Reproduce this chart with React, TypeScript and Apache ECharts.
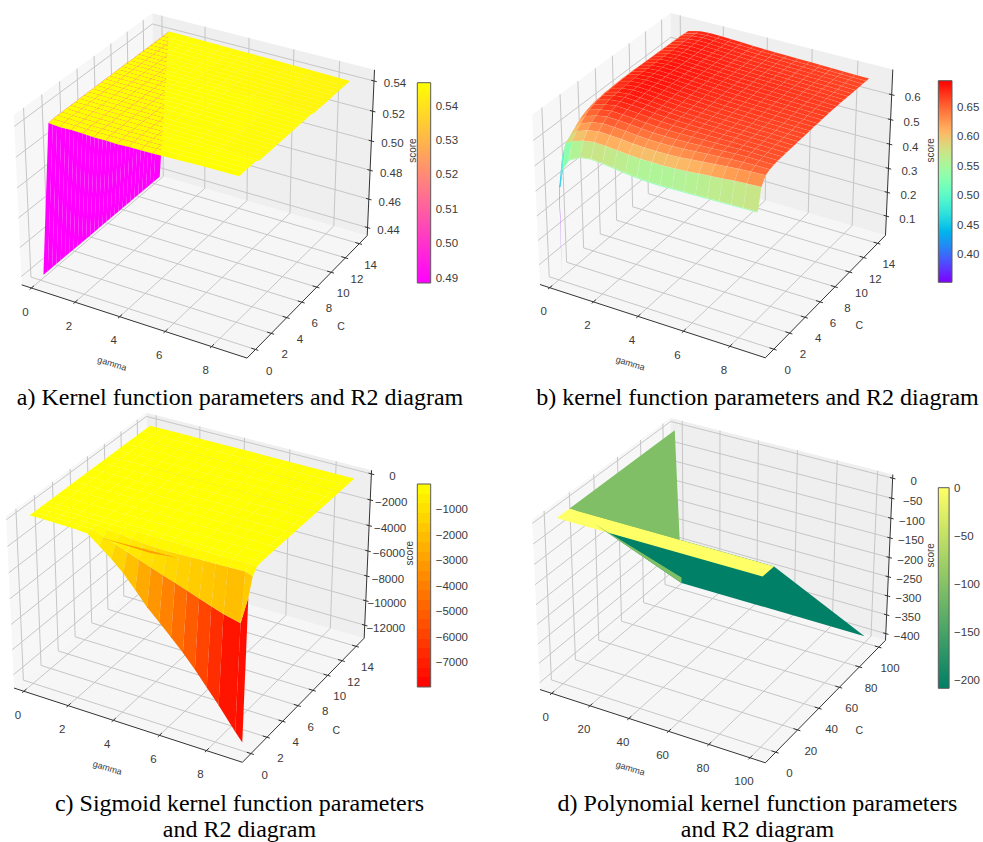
import React, { useEffect, useRef } from "react";
import * as echarts from "echarts";

// ---------- panel a ----------
const aGamma = [0.1, 0.6, 1.1, 1.6, 2.1, 2.6, 3.1, 3.6, 4.1, 4.6, 5.1, 6.1, 7.1, 8.7];
const aC = [0.1, 0.6, 1.1, 1.6, 2.1, 2.6, 3.1, 3.6, 4.1, 4.6, 5.1, 5.6, 6.1, 6.6, 7.1, 7.6, 8.1, 8.6, 9.1, 9.6, 10.1, 10.6, 11.1, 11.6, 12.1, 12.6, 13.1, 13.6, 14.4];
const aFront = [0.438, 0.5415, 0.5408, 0.5412, 0.541, 0.5405, 0.5407, 0.5405, 0.5408, 0.5409, 0.541, 0.5415, 0.542, 0.5423];
const aNear = [0.438, 0.542, 0.5418, 0.5416, 0.5415, 0.5415, 0.5415, 0.5416, 0.5417, 0.5417, 0.5418, 0.542, 0.5422, 0.5424];
const aMid = [0.438, 0.542, 0.542, 0.5419, 0.5419, 0.5418, 0.5418, 0.5417, 0.5417, 0.5417, 0.5416, 0.5415, 0.5412, 0.5408];
const aFar = [0.438, 0.5418, 0.5418, 0.5417, 0.5416, 0.5415, 0.5414, 0.5413, 0.5412, 0.5411, 0.541, 0.5407, 0.5404, 0.54];
const aScores = [aFront, aNear, aNear, aNear, aNear, aMid, aMid, aMid, aMid, aMid, aMid, aMid, aMid, aMid, aMid, aMid, aMid, aMid, aMid, aFar, aFar, aFar, aFar, aFar, aFar, aFar, aFar, aFar, aFar];

// ---------- panel b ----------
const bGamma = [0.1, 0.16, 0.3, 0.6, 1.1, 1.6, 2.1, 2.6, 3.1, 3.6, 4.1, 4.6, 5.1, 5.6, 6.1, 6.6, 7.1, 7.6, 8.1, 8.7];
const bC = [0.1, 0.2, 0.6, 1.1, 1.6, 2.1, 2.6, 3.1, 3.6, 4.1, 4.6, 5.1, 5.6, 6.1, 6.6, 7.1, 7.6, 8.1, 8.6, 9.1, 9.6, 10.1, 10.6, 11.1, 11.6, 12.1, 12.6, 13.1, 13.6, 14.1, 14.5];
const bR0 = [0.03, 0.4, 0.472, 0.515, 0.54, 0.547, 0.543, 0.538, 0.532, 0.527, 0.524, 0.523, 0.524, 0.525, 0.526, 0.527, 0.528, 0.529, 0.53, 0.531];
const bR0b = [0.39, 0.4, 0.472, 0.515, 0.54, 0.547, 0.543, 0.538, 0.532, 0.527, 0.524, 0.523, 0.524, 0.525, 0.526, 0.527, 0.528, 0.529, 0.53, 0.531];
const bR06 = [0.49, 0.519, 0.564, 0.579, 0.594, 0.601, 0.599, 0.595, 0.591, 0.588, 0.587, 0.587, 0.589, 0.592, 0.596, 0.6, 0.604, 0.608, 0.611, 0.614];
const bR11 = [0.509, 0.539, 0.579, 0.604, 0.621, 0.629, 0.627, 0.624, 0.62, 0.617, 0.616, 0.617, 0.619, 0.623, 0.627, 0.631, 0.635, 0.639, 0.642, 0.644];
const bR16 = [0.519, 0.554, 0.594, 0.621, 0.639, 0.647, 0.645, 0.642, 0.638, 0.635, 0.634, 0.635, 0.637, 0.64, 0.643, 0.646, 0.649, 0.651, 0.652, 0.652];
const bR21 = [0.524, 0.564, 0.609, 0.637, 0.652, 0.66, 0.658, 0.655, 0.651, 0.648, 0.647, 0.647, 0.648, 0.65, 0.652, 0.654, 0.656, 0.657, 0.657, 0.656];
const bR26 = [0.529, 0.574, 0.621, 0.649, 0.662, 0.669, 0.667, 0.664, 0.66, 0.657, 0.656, 0.656, 0.656, 0.657, 0.658, 0.659, 0.66, 0.66, 0.659, 0.658];
const bR31 = [0.534, 0.579, 0.629, 0.657, 0.669, 0.676, 0.674, 0.671, 0.667, 0.664, 0.662, 0.661, 0.661, 0.661, 0.661, 0.661, 0.661, 0.661, 0.66, 0.659];
const bR36 = [0.539, 0.584, 0.634, 0.662, 0.674, 0.68, 0.678, 0.675, 0.671, 0.668, 0.666, 0.665, 0.664, 0.664, 0.663, 0.663, 0.662, 0.662, 0.661, 0.66];
const bR41 = [0.544, 0.589, 0.639, 0.666, 0.678, 0.683, 0.681, 0.678, 0.674, 0.671, 0.669, 0.667, 0.666, 0.665, 0.664, 0.664, 0.663, 0.663, 0.662, 0.661];
const bR51 = [0.549, 0.594, 0.644, 0.669, 0.681, 0.686, 0.684, 0.681, 0.677, 0.674, 0.672, 0.67, 0.668, 0.667, 0.666, 0.665, 0.664, 0.664, 0.663, 0.662];
const bR61 = [0.551, 0.596, 0.646, 0.671, 0.683, 0.687, 0.686, 0.683, 0.679, 0.676, 0.674, 0.672, 0.67, 0.669, 0.668, 0.667, 0.666, 0.665, 0.664, 0.663];
const bR71 = [0.552, 0.597, 0.647, 0.672, 0.683, 0.687, 0.686, 0.684, 0.681, 0.678, 0.676, 0.674, 0.672, 0.671, 0.67, 0.669, 0.668, 0.667, 0.666, 0.665];
const bR81 = [0.552, 0.597, 0.647, 0.672, 0.683, 0.687, 0.686, 0.684, 0.681, 0.679, 0.677, 0.675, 0.674, 0.672, 0.671, 0.67, 0.669, 0.668, 0.667, 0.666];
const bR91 = [0.551, 0.596, 0.646, 0.671, 0.682, 0.686, 0.685, 0.683, 0.681, 0.679, 0.677, 0.675, 0.674, 0.673, 0.672, 0.671, 0.67, 0.669, 0.668, 0.667];
const bR101 = [0.55, 0.595, 0.645, 0.67, 0.681, 0.685, 0.684, 0.682, 0.68, 0.678, 0.676, 0.675, 0.674, 0.673, 0.672, 0.671, 0.67, 0.669, 0.668, 0.666];
const bR111 = [0.549, 0.594, 0.644, 0.669, 0.68, 0.684, 0.683, 0.681, 0.679, 0.677, 0.675, 0.674, 0.673, 0.672, 0.671, 0.67, 0.669, 0.668, 0.667, 0.665];
const bR121 = [0.548, 0.593, 0.643, 0.668, 0.679, 0.683, 0.682, 0.68, 0.678, 0.676, 0.674, 0.673, 0.672, 0.671, 0.67, 0.669, 0.668, 0.667, 0.666, 0.664];
const bR131 = [0.547, 0.592, 0.642, 0.667, 0.678, 0.682, 0.681, 0.679, 0.677, 0.675, 0.673, 0.672, 0.671, 0.67, 0.669, 0.668, 0.667, 0.666, 0.665, 0.663];
const bR141 = [0.546, 0.591, 0.641, 0.665, 0.676, 0.68, 0.679, 0.677, 0.675, 0.673, 0.671, 0.67, 0.669, 0.668, 0.667, 0.666, 0.665, 0.664, 0.663, 0.662];
const bScores = [bR0, bR0b, bR06, bR11, bR16, bR21, bR26, bR31, bR36, bR41, bR41, bR51, bR51, bR61, bR61, bR71, bR71, bR81, bR81, bR91, bR91, bR101, bR101, bR111, bR111, bR121, bR121, bR131, bR131, bR141, bR141];

// ---------- panel c ----------
const cGamma = [0.1, 0.6, 1.1, 1.6, 2.1, 2.6, 3.1, 3.6, 4.1, 4.6, 5.1, 5.6, 6.1, 6.6, 7.1, 7.6, 8.1, 8.8, 9.1];
const cC = [0.1, 0.6, 1.1, 1.6, 2.1, 3.1, 4.1, 5.1, 6.1, 7.1, 8.1, 9.1, 10.1, 11.1, 12.1, 13.1, 14.1];
const cRow0 = [0, 0, -10, -30, -60, -120, -800, -1500, -2300, -3300, -4350, -5200, -6100, -7000, -8000, -9100, -10200, -11850, -12500];
const cRow1 = [0, 0, -5, -15, -30, -50, -370, -690, -1010, -1330, -1650, -1970, -2280, -2600, -2920, -3240, -3550, -3860, -1820];
const cRow2 = [0, 0, -5, -10, -20, -30, -100, -200, -300, -400, -450, -450, -450, -420, -400, -380, -360, -340, -500];
const cRow3 = [0, 0, 0, -5, -10, -15, -20, -25, -30, -35, -40, -45, -50, -55, -60, -65, -70, -80, -100];
const cFlat = [0, 0, 0, 0, -5, -5, -5, -10, -10, -10, -10, -15, -15, -15, -20, -20, -20, -25, -25];
const cScores = [cRow0, cRow1, cRow2, cRow3, cFlat, cFlat, cFlat, cFlat, cFlat, cFlat, cFlat, cFlat, cFlat, cFlat, cFlat, cFlat, cFlat];
const cSliver = [
  [2.96, 0.6, -515],
  [5.08, 0.6, -600],
  [6.2, 0.6, -380],
];

// ---------- panel d ----------
const dGamma = [0.1, 3, 100];
const dC = [0.1, 10, 100];
const dScores = [
  [0, 0, 0],
  [0, 0, 0],
  [0, -400, -400],
];
const dSliver = [
  [3, 25, -67],
  [3, 100, -400],
  [3, 100, -385],
];

// ---------- ticks ----------
const gammaTicks09 = [0, 2, 4, 6, 8];
const cTicks015 = [0, 2, 4, 6, 8, 10, 12, 14];
const gammaTicks100 = [0, 20, 40, 60, 80, 100];
const cTicks100 = [0, 20, 40, 60, 80, 100];
const aZTicks = [0.44, 0.46, 0.48, 0.5, 0.52, 0.54];
const bZTicks = [0.1, 0.2, 0.3, 0.4, 0.5, 0.6];
const cZTicks = [-12000, -10000, -8000, -6000, -4000, -2000, 0];
const dZTicks = [-400, -350, -300, -250, -200, -150, -100, -50, 0];
const aBarTicks = [0.49, 0.5, 0.51, 0.52, 0.53, 0.54];
const bBarTicks = [0.4, 0.45, 0.5, 0.55, 0.6, 0.65];
const cBarTicks = [-7000, -6000, -5000, -4000, -3000, -2000, -1000];
const dBarTicks = [-200, -150, -100, -50, 0];

const captions = [
  { text: "a) Kernel function parameters and R2 diagram", x: 240, y: 397 },
  { text: "b) kernel function parameters and R2 diagram", x: 757.5, y: 397 },
  { text: "c) Sigmoid kernel function parameters", x: 239.5, y: 803 },
  { text: "and R2 diagram", x: 239.5, y: 829 },
  { text: "d) Polynomial kernel function parameters", x: 757.5, y: 803 },
  { text: "and R2 diagram", x: 757.5, y: 829 },
];

// ---------- colour maps ----------
const clip = (v: number) => Math.max(0, Math.min(1, v));
const rgb = (r: number, g: number, b: number) =>
  `rgb(${Math.round(clip(r) * 255)},${Math.round(clip(g) * 255)},${Math.round(clip(b) * 255)})`;
const spring = (v: number) => rgb(1, v, 1 - v);
const rainbow = (v: number) => rgb(Math.abs(2 * v - 0.5), Math.sin(Math.PI * v), Math.cos((Math.PI * v) / 2));
const autumn = (v: number) => rgb(1, v, 0);
const summer = (v: number) => rgb(v, 0.5 + 0.5 * v, 0.4);

const FONT = '"Liberation Sans"';
const TXT = "#3a3a3a";

const panels: any[] = [
  {
    gamma: aGamma, c: aC, scores: aScores, cmap: spring, colorMin: 0.49, colorMax: 0.542,
    x0: -0.45, x1: 9.5, y0: -1.05, y1: 15.15, z0: 0.4343, z1: 0.5473, s: 226, ox: 197.5, oy: 177.7,
    gTicks: gammaTicks09, cTicks: cTicks015, zTicks: aZTicks, zFmt: (v: number) => v.toFixed(2),
    bar: { left: 417.3, top: 82.7, width: 13.4, height: 200.3, min: 0.4884, max: 0.5467, ticks: aBarTicks, fmt: (v: number) => v.toFixed(2), steps: 0 },
  },
  {
    gamma: bGamma, c: bC, scores: bScores, cmap: rainbow, colorMin: 0.352, colorMax: 0.694, seam: "rgba(255,255,255,0.14)",
    x0: -0.45, x1: 9.5, y0: -1.05, y1: 15.15, z0: 0.0177, z1: 0.6999, s: 226, ox: 715.8, oy: 177.4,
    gTicks: gammaTicks09, cTicks: cTicks015, zTicks: bZTicks, zFmt: (v: number) => v.toFixed(1),
    bar: { left: 938.3, top: 80.7, width: 13.7, height: 201.6, min: 0.352, max: 0.694, ticks: bBarTicks, fmt: (v: number) => v.toFixed(2), steps: 0 },
  },
  {
    gamma: cGamma, c: cC, scores: cScores, cmap: autumn, colorMin: -7975, colorMax: 0, extra: cSliver, extraTone: 0.62,
    x0: -0.45, x1: 9.5, y0: -1.05, y1: 15.15, z0: -13074, z1: 282, s: 229, ox: 192.2, oy: 579.5,
    gTicks: gammaTicks09, cTicks: cTicks015, zTicks: cZTicks, zFmt: (v: number) => String(v),
    bar: { left: 417.3, top: 484, width: 13.4, height: 203, min: -7975, max: 0, ticks: cBarTicks, fmt: (v: number) => String(v), steps: 21 },
  },
  {
    gamma: dGamma, c: dC, scores: dScores, cmap: summer, colorMin: -200, colorMax: 0, extra: dSliver, extraTone: 0.5,
    x0: -6.2, x1: 107.4, y0: -9.3, y1: 107, z0: -418, z1: 9, s: 226, ox: 715.8, oy: 582.4,
    gTicks: gammaTicks100, cTicks: cTicks100, zTicks: dZTicks, zFmt: (v: number) => String(v),
    bar: { left: 938.3, top: 487.7, width: 13.7, height: 200.6, min: -208.7, max: 0.7, ticks: dBarTicks, fmt: (v: number) => String(v), steps: 0 },
  },
];

// matplotlib's default 3D view: elevation 30, azimuth -60, distance 10
const BOX = [1.1429, 1.1429, 0.857];
function project(p: any, g: number, c: number, z: number) {
  const X = ((g - p.x0) / (p.x1 - p.x0) - 0.5) * BOX[0];
  const Y = ((c - p.y0) / (p.y1 - p.y0) - 0.5) * BOX[1];
  const Z = ((z - p.z0) / (p.z1 - p.z0) - 0.5) * BOX[2];
  const a = 0.866 * X + 0.5 * Y;
  const b = -0.25 * X + 0.433 * Y + 0.866 * Z;
  const w = 0.433 * X - 0.75 * Y + 0.5 * Z;
  const k = 1 / (1 - w / 10);
  return [p.ox + p.s * a * k, p.oy - p.s * b * k, w];
}
const xy = (p: any, g: number, c: number, z: number) => project(p, g, c, z).slice(0, 2);

const minus = (s: string) => s.replace("-", "\u2212");

function line(points: number[][], stroke: string, lineWidth: number) {
  return { type: "polyline", shape: { points }, style: { stroke, lineWidth, fill: "none" }, silent: true };
}
function label(text: string, x: number, y: number, fontSize = 11.5, rotation = 0) {
  return {
    type: "text", x, y, rotation, silent: true,
    style: { text, fontSize, fontFamily: FONT, fill: TXT, align: "center", verticalAlign: "middle" },
  };
}

function frameChildren(p: any) {
  const { x0, x1, y0, y1, z0, z1 } = p;
  const out: any[] = [];
  const pane = (pts: number[][], fill: string) =>
    out.push({ type: "polygon", shape: { points: pts.map((q) => xy(p, q[0], q[1], q[2])) }, style: { fill }, silent: true });
  pane([[x0, y0, z0], [x1, y0, z0], [x1, y1, z0], [x0, y1, z0]], "#f6f6f6");
  pane([[x0, y0, z0], [x0, y1, z0], [x0, y1, z1], [x0, y0, z1]], "#f7f7f7");
  pane([[x0, y1, z0], [x1, y1, z0], [x1, y1, z1], [x0, y1, z1]], "#efefef");
  const GRID = "#c6c6c6";
  p.gTicks.forEach((g: number) => {
    out.push(line([xy(p, g, y0, z0), xy(p, g, y1, z0), xy(p, g, y1, z1)], GRID, 1));
  });
  p.cTicks.forEach((c: number) => {
    out.push(line([xy(p, x1, c, z0), xy(p, x0, c, z0), xy(p, x0, c, z1)], GRID, 1));
  });
  p.zTicks.forEach((z: number) => {
    out.push(line([xy(p, x0, y0, z), xy(p, x0, y1, z), xy(p, x1, y1, z)], GRID, 1));
  });
  const AX = "#333";
  out.push(line([xy(p, x0, y0, z0), xy(p, x1, y0, z0), xy(p, x1, y1, z0), xy(p, x1, y1, z1)], AX, 1));
  const lx = x1 - x0;
  const ly = y1 - y0;
  p.gTicks.forEach((g: number) => {
    out.push(line([xy(p, g, y0 - 0.012 * ly, z0), xy(p, g, y0 + 0.018 * ly, z0)], AX, 1));
    const t = xy(p, g, y0, z0);
    out.push(label(String(g), t[0] - 6, t[1] + 23.5));
  });
  p.cTicks.forEach((c: number) => {
    out.push(line([xy(p, x1 - 0.018 * lx, c, z0), xy(p, x1 + 0.012 * lx, c, z0)], AX, 1));
    const t = xy(p, x1, c, z0);
    const frac = (c - y0) / ly;
    out.push(label(String(c), t[0] + 14 - 3 * frac, t[1] + 21));
  });
  p.zTicks.forEach((z: number) => {
    out.push(line([xy(p, x1 - 0.012 * lx, y1, z), xy(p, x1 + 0.012 * lx, y1, z)], AX, 1));
    const t = xy(p, x1, y1, z);
    out.push(label(minus(p.zFmt(z)), t[0] + 21, t[1] + 2.5));
  });
  const bottom = xy(p, x1, y0, z0);
  const right = xy(p, x1, y1, z0);
  out.push(label("gamma", bottom[0] - 135, bottom[1] + 5.5, 9, -0.3));
  out.push(label("C", bottom[0] + 94, bottom[1] - 32.5, 10.5));
  out.push(label("score", right[0] + 45, right[1] - 85, 10, Math.PI / 2));
  return out;
}

function surfaceOrder(p: any) {
  const cells: any[] = [];
  for (let j = 0; j < p.c.length - 1; j++) {
    for (let i = 0; i < p.gamma.length - 1; i++) {
      const corners = [[i, j], [i + 1, j], [i + 1, j + 1], [i, j + 1]];
      let w = 0;
      corners.forEach(([a, b]) => (w += project(p, p.gamma[a], p.c[b], p.scores[b][a])[2]));
      cells.push({ i, j, w });
    }
  }
  cells.sort((m, n) => m.w - n.w);
  return cells.map((q) => [q.i, q.j]);
}

function buildOption() {
  const series: any[] = [];
  const grid: any[] = [];
  const xAxis: any[] = [];
  const yAxis: any[] = [];
  panels.forEach((p, idx) => {
    series.push({
      type: "custom", coordinateSystem: "none", silent: true, clip: false, data: [[0]], z: 1,
      renderItem: () => ({ type: "group", children: frameChildren(p) }),
    });
    series.push({
      type: "custom", coordinateSystem: "none", silent: true, clip: false, z: 2, progressive: 0,
      data: surfaceOrder(p),
      renderItem: (_: any, api: any) => {
        const i = api.value(0);
        const j = api.value(1);
        const corners = [[i, j], [i + 1, j], [i + 1, j + 1], [i, j + 1]];
        let sum = 0;
        const points = corners.map(([a, b]) => {
          sum += p.scores[b][a];
          return xy(p, p.gamma[a], p.c[b], p.scores[b][a]);
        });
        const v = clip((sum / 4 - p.colorMin) / (p.colorMax - p.colorMin));
        const fill = p.cmap(v);
        return {
          type: "polygon", shape: { points }, silent: true,
          style: p.seam ? { fill, stroke: p.seam, lineWidth: 0.5 } : { fill },
        };
      },
    });
    if (p.extra) {
      series.push({
        type: "custom", coordinateSystem: "none", silent: true, clip: false, z: 3, data: [[0]],
        renderItem: () => ({
          type: "polygon", silent: true,
          shape: { points: p.extra.map((q: number[]) => xy(p, q[0], q[1], q[2])) },
          style: { fill: p.cmap(p.extraTone) },
        }),
      });
    }
    const b = p.bar;
    grid.push({ left: b.left, top: b.top, width: b.width, height: b.height, show: false });
    xAxis.push({ type: "value", gridIndex: idx, min: 0, max: 1, show: false });
    yAxis.push({
      type: "value", gridIndex: idx, min: b.min, max: b.max, position: "right",
      axisLine: { show: false }, splitLine: { show: false },
      axisTick: { show: true, length: 3.5, customValues: b.ticks, lineStyle: { color: "#333", width: 1 } },
      axisLabel: {
        show: true, customValues: b.ticks, margin: 5, fontSize: 11.5, fontFamily: FONT, color: TXT,
        formatter: (v: number) => minus(b.fmt(v)), showMinLabel: true, showMaxLabel: true,
      },
    });
    const stops: any[] = [];
    if (b.steps) {
      for (let s = 0; s < b.steps; s++) {
        const col = p.cmap(1 - (s + 0.5) / b.steps);
        stops.push({ offset: s / b.steps, color: col }, { offset: (s + 1) / b.steps, color: col });
      }
    } else {
      for (let s = 0; s <= 24; s++) stops.push({ offset: s / 24, color: p.cmap(1 - s / 24) });
    }
    series.push({
      type: "custom", coordinateSystem: "cartesian2d", xAxisIndex: idx, yAxisIndex: idx, silent: true, clip: false, z: 4,
      encode: { x: [0, 2], y: [1, 3] },
      data: [[0, b.min, 1, b.max]],
      renderItem: (_: any, api: any) => {
        const tl = api.coord([api.value(0), api.value(3)]);
        const br = api.coord([api.value(2), api.value(1)]);
        return {
          type: "rect", silent: true,
          shape: { x: tl[0], y: tl[1], width: br[0] - tl[0], height: br[1] - tl[1] },
          style: { fill: new echarts.graphic.LinearGradient(0, 0, 0, 1, stops), stroke: "#5a5a5a", lineWidth: 1 },
        };
      },
    });
  });
  return {
    animation: false,
    backgroundColor: "#ffffff",
    grid, xAxis, yAxis, series,
    graphic: captions.map((k) => ({
      type: "text", x: k.x, y: k.y, silent: true,
      style: { text: k.text, fontSize: 24, fontFamily: '"Liberation Serif"', fill: "#000", align: "center", verticalAlign: "middle" },
    })),
  };
}

export default function App() {
  const ref = useRef<HTMLDivElement>(null);
  useEffect(() => {
    const chart = echarts.init(ref.current as HTMLDivElement, undefined, { renderer: "svg" });
    chart.setOption(buildOption() as any);
    return () => chart.dispose();
  }, []);
  return <div ref={ref} style={{ position: "absolute", left: 0, top: 0, width: 983, height: 842 }} />;
}
